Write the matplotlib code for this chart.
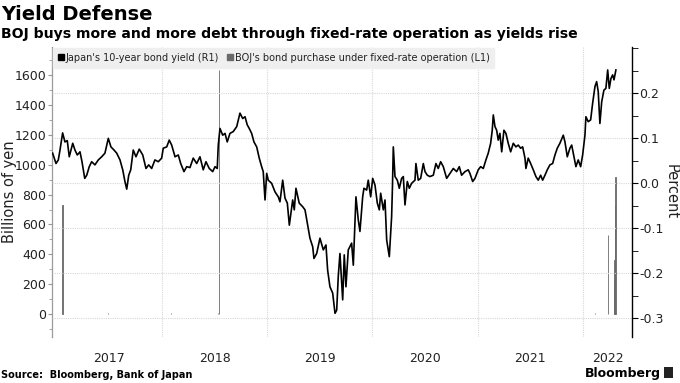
import matplotlib
matplotlib.use("Agg")
import matplotlib.pyplot as plt
from matplotlib.lines import Line2D
from matplotlib.ticker import MultipleLocator, FixedLocator, FormatStrFormatter, NullFormatter

# Japan 10-year JGB yield (percent); time as decimal years
yield_t = [
    2016.961, 2016.993, 2017.015, 2017.031, 2017.056, 2017.078, 2017.100, 2017.119, 2017.152, 2017.173,
    2017.195, 2017.221, 2017.240, 2017.266, 2017.285, 2017.309, 2017.332, 2017.363, 2017.395, 2017.427,
    2017.458, 2017.490, 2017.515, 2017.544, 2017.570, 2017.601, 2017.627, 2017.648, 2017.665, 2017.684,
    2017.703, 2017.727, 2017.753, 2017.784, 2017.817, 2017.848, 2017.874, 2017.902, 2017.933, 2017.965,
    2017.997, 2018.012, 2018.045, 2018.069, 2018.092, 2018.124, 2018.155, 2018.178, 2018.209, 2018.235,
    2018.266, 2018.297, 2018.330, 2018.361, 2018.392, 2018.418, 2018.449, 2018.482, 2018.504, 2018.525,
    2018.535, 2018.551, 2018.577, 2018.599, 2018.620, 2018.646, 2018.677, 2018.710, 2018.741, 2018.767,
    2018.789, 2018.810, 2018.829, 2018.852, 2018.874, 2018.900, 2018.924, 2018.947, 2018.962, 2018.979,
    2018.995, 2019.010, 2019.042, 2019.074, 2019.105, 2019.121, 2019.147, 2019.169, 2019.191, 2019.210,
    2019.242, 2019.257, 2019.273, 2019.304, 2019.337, 2019.359, 2019.381, 2019.406, 2019.432, 2019.444,
    2019.470, 2019.501, 2019.533, 2019.558, 2019.574, 2019.596, 2019.622, 2019.644, 2019.660, 2019.675,
    2019.691, 2019.717, 2019.732, 2019.748, 2019.770, 2019.802, 2019.818, 2019.843, 2019.865, 2019.881,
    2019.907, 2019.919, 2019.945, 2019.960, 2019.983, 2020.002, 2020.024, 2020.046, 2020.065, 2020.078,
    2020.103, 2020.119, 2020.135, 2020.160, 2020.182, 2020.190, 2020.198, 2020.214, 2020.236, 2020.255,
    2020.277, 2020.293, 2020.309, 2020.331, 2020.350, 2020.372, 2020.404, 2020.413, 2020.435, 2020.458,
    2020.483, 2020.499, 2020.521, 2020.546, 2020.578, 2020.603, 2020.625, 2020.648, 2020.673, 2020.705,
    2020.736, 2020.768, 2020.800, 2020.825, 2020.847, 2020.879, 2020.910, 2020.926, 2020.952, 2020.974,
    2021.005, 2021.028, 2021.053, 2021.078, 2021.100, 2021.123, 2021.138, 2021.148, 2021.164, 2021.180,
    2021.195, 2021.211, 2021.228, 2021.249, 2021.268, 2021.290, 2021.313, 2021.338, 2021.363, 2021.385,
    2021.408, 2021.427, 2021.449, 2021.458, 2021.480, 2021.503, 2021.528, 2021.553, 2021.575, 2021.598,
    2021.617, 2021.639, 2021.661, 2021.686, 2021.712, 2021.734, 2021.756, 2021.781, 2021.813, 2021.829,
    2021.851, 2021.876, 2021.893, 2021.908, 2021.933, 2021.955, 2021.978, 2021.997, 2022.019, 2022.028,
    2022.050, 2022.073, 2022.092, 2022.114, 2022.130, 2022.145, 2022.161, 2022.178, 2022.199, 2022.218,
    2022.235, 2022.250, 2022.266, 2022.282, 2022.295, 2022.313,
]
yield_pct = [
    0.067, 0.044, 0.052, 0.074, 0.112, 0.092, 0.095, 0.059, 0.089, 0.074,
    0.063, 0.070, 0.048, 0.011, 0.018, 0.037, 0.048, 0.041, 0.052, 0.059,
    0.067, 0.100, 0.081, 0.074, 0.067, 0.052, 0.030, 0.004, -0.013, 0.018,
    0.030, 0.074, 0.059, 0.076, 0.063, 0.033, 0.041, 0.033, 0.052, 0.048,
    0.056, 0.078, 0.081, 0.096, 0.085, 0.059, 0.063, 0.044, 0.026, 0.037,
    0.035, 0.056, 0.044, 0.059, 0.030, 0.048, 0.033, 0.026, 0.037, 0.033,
    0.085, 0.122, 0.107, 0.111, 0.092, 0.111, 0.115, 0.126, 0.156, 0.144,
    0.148, 0.130, 0.122, 0.111, 0.092, 0.081, 0.056, 0.037, 0.026, -0.037,
    0.022, 0.007, 0.000, -0.019, -0.030, -0.041, 0.007, -0.033, -0.044, -0.093,
    -0.037, -0.059, -0.011, -0.044, -0.052, -0.059, -0.089, -0.122, -0.141, -0.167,
    -0.156, -0.122, -0.148, -0.137, -0.193, -0.230, -0.244, -0.289, -0.282, -0.207,
    -0.156, -0.259, -0.159, -0.230, -0.148, -0.133, -0.182, -0.030, -0.081, -0.107,
    -0.030, -0.011, -0.015, 0.007, -0.030, 0.011, -0.004, -0.044, -0.059, -0.022,
    -0.059, -0.037, -0.126, -0.163, -0.074, -0.007, 0.081, 0.015, 0.007, -0.011,
    0.011, 0.015, -0.048, 0.004, -0.011, 0.000, 0.007, 0.044, 0.007, 0.011,
    0.044, 0.026, 0.018, 0.015, 0.018, 0.044, 0.033, 0.048, 0.037, 0.011,
    0.022, 0.033, 0.026, 0.037, 0.018, 0.026, 0.030, 0.022, 0.004, 0.011,
    0.030, 0.037, 0.033, 0.052, 0.067, 0.089, 0.118, 0.152, 0.126, 0.118,
    0.096, 0.111, 0.070, 0.118, 0.111, 0.089, 0.070, 0.089, 0.081, 0.085,
    0.078, 0.081, 0.056, 0.033, 0.056, 0.044, 0.030, 0.015, 0.007, 0.018,
    0.007, 0.018, 0.030, 0.041, 0.044, 0.063, 0.078, 0.089, 0.107, 0.092,
    0.059, 0.078, 0.085, 0.067, 0.037, 0.052, 0.037, 0.063, 0.107, 0.148,
    0.137, 0.141, 0.178, 0.215, 0.226, 0.204, 0.133, 0.181, 0.207, 0.211,
    0.252, 0.211, 0.233, 0.241, 0.230, 0.252,
]

# BOJ purchases under fixed-rate operations (billions of yen)
buy_t = [2017.053, 2017.487, 2018.086, 2018.532, 2018.544, 2022.114, 2022.240,
         2022.296, 2022.300, 2022.304, 2022.308]
buy_bn = [727, 4, 4, 4, 1637, 4, 530, 228, 362, 731, 921]

years = [2017, 2018, 2019, 2020, 2021, 2022]
x_min, x_max = 2016.955, 2022.466

plt.rcParams["font.family"] = "DejaVu Sans"

fig = plt.figure(figsize=(6.8, 3.83), dpi=100)
ax = fig.add_axes([52 / 680, 1 - 337 / 383, 580 / 680, 290 / 383])
ax2 = ax.twinx()

# purchases (left axis)
ax.bar(buy_t, buy_bn, width=0.004, color="#6a6a6a", linewidth=0.6,
       edgecolor="#6a6a6a", zorder=2)
ax.set_xlim(x_min, x_max)
ax.set_ylim(-155, 1790)
ax.yaxis.set_major_locator(MultipleLocator(200))
ax.yaxis.set_minor_locator(MultipleLocator(100))
ax.tick_params(axis="y", which="major", direction="out", length=3, color="#999999",
               labelsize=9, labelcolor="#222222", pad=1)
ax.tick_params(axis="y", which="minor", direction="out", length=2, color="#999999")
ax.set_ylabel("Billions of yen", fontsize=10.5, color="#222222", va="center")
ax.yaxis.set_label_coords(-0.073, 0.5)

# years: gridlines at year starts, labels mid year
ax.xaxis.set_major_locator(FixedLocator(years[1:]))
ax.xaxis.set_major_formatter(NullFormatter())
mids = [y + 0.5 for y in years[:-1]] + [(years[-1] + x_max) / 2]
ax.xaxis.set_minor_locator(FixedLocator(mids))
ax.xaxis.set_minor_formatter(plt.FuncFormatter(lambda v, p: str(int(v))))
ax.tick_params(axis="x", which="both", length=0, labelsize=9, labelcolor="#222222", pad=11)
ax.grid(axis="x", which="major", color="#d8d8d8", linestyle=(0, (1, 1)), linewidth=0.8)

# yield (right axis)
ax2.plot(yield_t, yield_pct, color="black", linewidth=1.2, zorder=3)
ax2.set_ylim(-0.3416, 0.303)
ax2.yaxis.set_major_locator(FixedLocator([-0.3, -0.2, -0.1, 0.0, 0.1, 0.2]))
ax2.yaxis.set_minor_locator(MultipleLocator(0.05))
ax2.yaxis.set_major_formatter(FormatStrFormatter("%.1f"))
ax2.tick_params(axis="y", which="major", direction="out", length=4, color="black",
                labelsize=9, labelcolor="#222222", pad=1)
ax2.tick_params(axis="y", which="minor", direction="out", length=4, color="black")
ax2.grid(axis="y", which="major", color="#d8d8d8", linestyle=(0, (1, 1)), linewidth=0.8)
ax2.set_ylabel("Percent", fontsize=10.5, color="#222222", rotation=270, va="center")
ax2.yaxis.set_label_coords(1.068, 0.5)
ax2.set_axisbelow(True)

for a in (ax, ax2):
    a.spines["top"].set_visible(False)
    a.spines["bottom"].set_visible(False)
ax.spines["right"].set_visible(False)
ax2.spines["left"].set_color("#bbbbbb")
ax2.spines["left"].set_linewidth(0.6)
ax2.spines["right"].set_color("black")
ax2.spines["right"].set_linewidth(1.0)

handles = [
    Line2D([], [], marker="s", linestyle="none", color="black", markersize=5),
    Line2D([], [], marker="s", linestyle="none", color="#6a6a6a", markersize=5),
]
labels = ["Japan's 10-year bond yield (R1)",
          "BOJ's bond purchase under fixed-rate operation (L1)"]
leg = ax2.legend(handles, labels, loc="upper left", bbox_to_anchor=(0.0, 1.0), ncol=2,
                 fontsize=7, frameon=True, fancybox=False, facecolor="#efefef",
                 edgecolor="#efefef", framealpha=1, borderaxespad=0.1, handlelength=0.6,
                 handletextpad=0.2, columnspacing=0.8, borderpad=0.5)
for t in leg.get_texts():
    t.set_color("#222222")

fig.text(0.002, 0.963, "Yield Defense", fontsize=14, fontweight="bold", va="center")
fig.text(0.002, 0.91, "BOJ buys more and more debt through fixed-rate operation as yields rise",
         fontsize=10.1, fontweight="bold", va="center")
fig.text(0.002, 0.022, "Source:  Bloomberg, Bank of Japan", fontsize=7,
         fontweight="bold", va="center")
fig.text(0.972, 0.026, "Bloomberg", fontsize=9, fontweight="bold", va="center", ha="right")
fig.patches.append(plt.Rectangle((0.976, 0.012), 0.014, 0.03, transform=fig.transFigure,
                                 facecolor="#222222", figure=fig))

fig.savefig("out.png", dpi=100)
